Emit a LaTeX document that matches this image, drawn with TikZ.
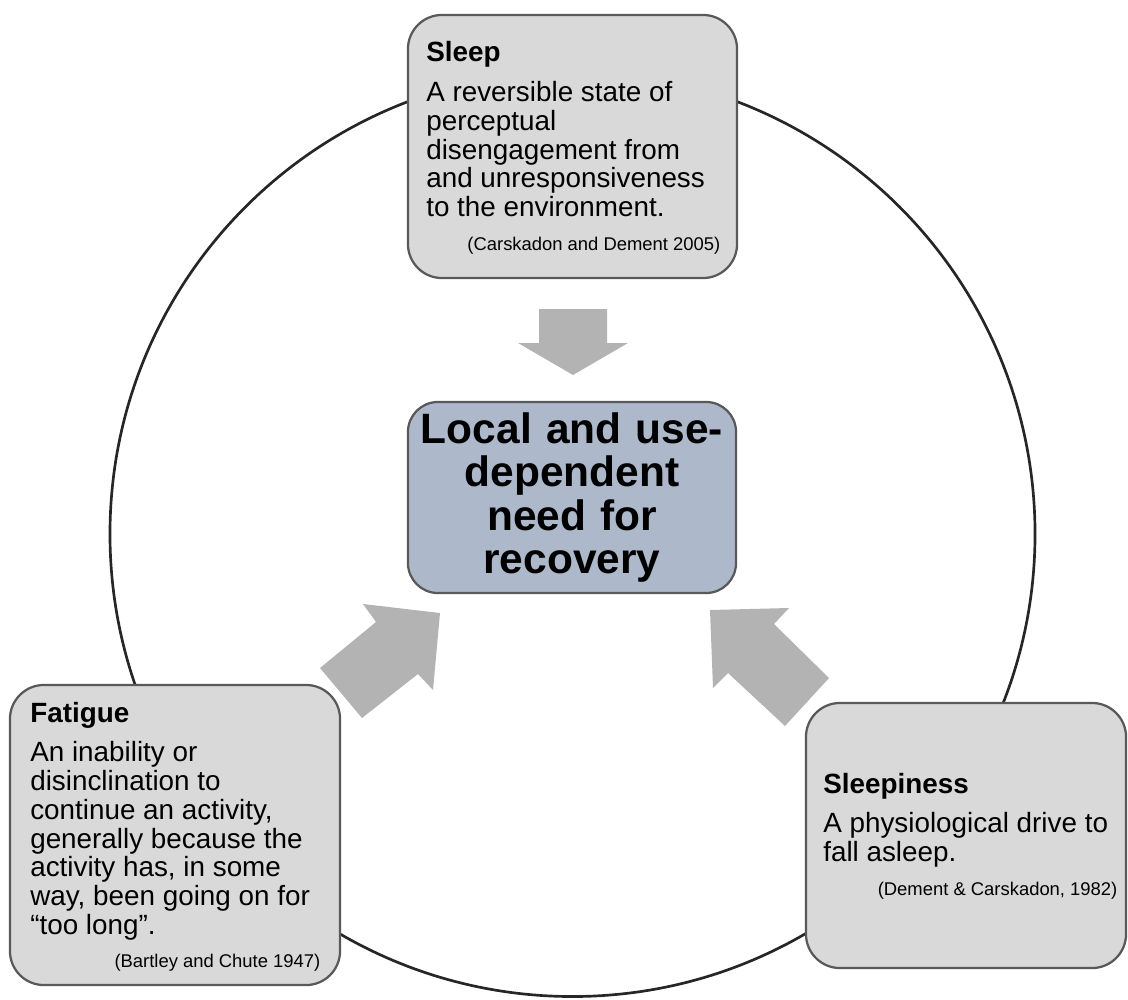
\documentclass[tikz,border=0pt]{standalone}
\usepackage{fontspec}
\setmainfont{Liberation Sans}
\usepackage{tikz}
\usetikzlibrary{positioning}

\definecolor{cardfill}{HTML}{D9D9D9}
\definecolor{cardline}{HTML}{595959}
\definecolor{corefill}{HTML}{ADB9CA}
\definecolor{flowgray}{HTML}{B3B3B3}
\definecolor{ringline}{HTML}{262626}

\newcommand{\bodysize}{\fontsize{19.8pt}{20.4pt}\selectfont}
\newcommand{\citesize}{\fontsize{13.1pt}{15pt}\selectfont}
\newcommand{\cardhead}[1]{\spaceskip=0pt \xspaceskip=0pt {\bfseries #1\par}\vspace{8pt}}
\newcommand{\cardcite}[1]{\par\vspace{9pt}{\raggedleft\citesize #1\par}}

\tikzset{
  card/.style={draw=cardline, line width=1.6pt, fill=cardfill, rounded corners=0.85cm},
  cardtext/.style={anchor=base west, inner sep=0pt, align=left, font=\bodysize},
  core/.style={draw=cardline, line width=1.6pt, fill=corefill, rounded corners=0.75cm,
    minimum width=8.2cm, minimum height=4.775cm, text width=7.8cm, align=center,
    font=\bfseries\fontsize{30.2pt}{30.8pt}\selectfont},
  flow/.style={fill=flowgray},
  ring/.style={draw=ringline, line width=1.9pt}
}

\begin{document}
\begin{tikzpicture}[x=0.025cm, y=-0.025cm]
\useasboundingbox (0,0) rectangle (1128,999);

% outer cycle
\draw[ring] (572.5,534) circle (11.56cm);

% the three definitions
\node[card, minimum width=8.225cm, minimum height=6.575cm] (sleep) at (572.5,146.5) {};
\node[card, minimum width=8.25cm, minimum height=7.5cm] (fatigue) at (175,835) {};
\node[card, minimum width=8cm, minimum height=6.625cm] (sleepiness) at (966,835.5) {};

\node[cardtext, text width=7.35cm] (sleeptext) at (426,62) {%
  \cardhead{Sleep}
  A reversible state of\\ perceptual\\ disengagement from\\ and unresponsiveness\\ to the environment.
  \cardcite{(Carskadon and Dement 2005)}};
\node[cardtext, text width=7.25cm] (fatiguetext) at (30,722) {%
  \cardhead{Fatigue}
  An inability or\\ disinclination to\\ continue an activity,\\ generally because the\\ activity has, in some\\ way, been going on for\\ “too long”.
  \cardcite{(Bartley and Chute 1947)}};
\node[cardtext, text width=7.35cm] (sleepinesstext) at (823,793) {%
  \cardhead{Sleepiness}
  A physiological drive to\\ fall asleep.
  \cardcite{(Dement \& Carskadon, 1982)}};

% centre
\node[core] (need) at (572,497.5) {Local and use-\\dependent\\need for\\recovery};

% block arrows into the centre
\fill[flow] (539,309) -- (607,309) -- (607,343) -- (628,343) -- (573,375) -- (518,343) -- (539,343) -- cycle;
\fill[flow] (320,668) -- (376,622) -- (363,604) -- (440,613) -- (433,690) -- (418,674) -- (362,718) -- cycle;
\fill[flow] (710,610) -- (789,608) -- (774,624) -- (829,678) -- (785,726) -- (728,673) -- (713,688) -- cycle;
\end{tikzpicture}
\end{document}
